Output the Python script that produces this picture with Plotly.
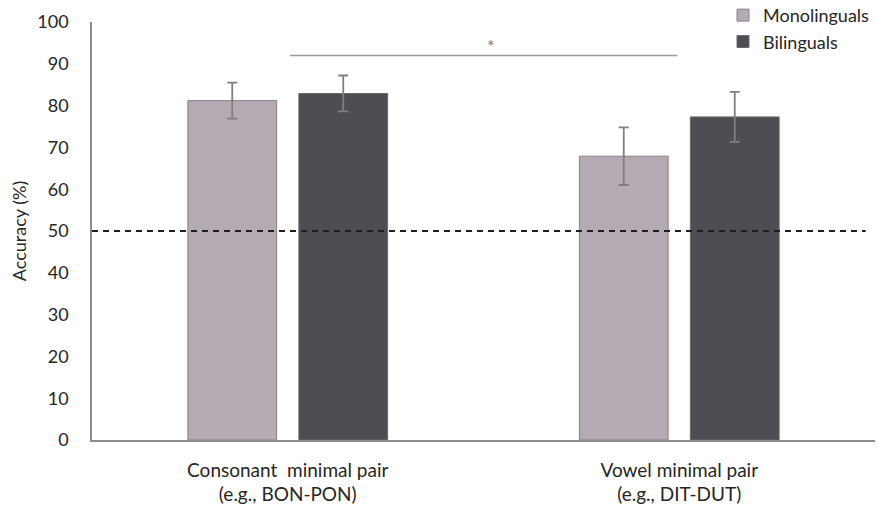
import plotly.graph_objects as go

# Task categories (two-line tick labels)
categories = ["Consonant  minimal pair<br>(e.g., BON-PON)", "Vowel minimal pair<br>(e.g., DIT-DUT)"]
# Mean accuracy (%) and error margins per group
mono_values = [81.2, 67.9]
mono_errors = [4.3, 6.9]
bili_values = [82.9, 77.3]
bili_errors = [4.3, 6.0]
chance_level = 50
sig_level = 92
y_ticks = [0, 10, 20, 30, 40, 50, 60, 70, 80, 90, 100]

FONT = "Lato"
AXIS_GRAY = "#8c8c8c"
TEXT = "#262626"

fig = go.Figure()
fig.add_trace(go.Bar(
    name="Monolinguals", x=categories, y=mono_values,
    marker=dict(color="#b4aab3", line=dict(color="#8a8389", width=1)),
    error_y=dict(type="data", array=mono_errors, color="#7f7f7f", thickness=1.8, width=5),
))
fig.add_trace(go.Bar(
    name="Bilinguals", x=categories, y=bili_values,
    marker=dict(color="#4f4d53", line=dict(color="#6a686d", width=1)),
    error_y=dict(type="data", array=bili_errors, color="#7f7f7f", thickness=1.8, width=5),
))

# Chance-level reference line
fig.add_shape(type="line", xref="paper", yref="y", x0=0, x1=0.988,
              y0=chance_level, y1=chance_level,
              line=dict(color="#1e1e1e", width=2, dash="6px,5px"))
# Significance bracket between the two tasks
fig.add_shape(type="line", xref="x", yref="y", x0=0.006, x1=0.995,
              y0=sig_level, y1=sig_level,
              line=dict(color="#9a9a9a", width=1.5))
fig.add_annotation(x=0.52, y=sig_level + 2.2, xref="x", yref="y", text="*",
                   showarrow=False, font=dict(family=FONT, size=18, color="#7a7a7a"))

fig.update_layout(
    width=877, height=507,
    margin=dict(l=92, r=2, t=22, b=67, autoexpand=False),
    paper_bgcolor="white", plot_bgcolor="white",
    barmode="group", bargap=0.433, bargroupgap=0.2,
    font=dict(family=FONT, color=TEXT),
    showlegend=True,
    legend=dict(x=1.0, y=1.06, xanchor="right", yanchor="top",
                font=dict(family=FONT, size=18, color=TEXT),
                bgcolor="rgba(0,0,0,0)", tracegroupgap=0, itemwidth=30),
    xaxis=dict(type="category", range=[-0.5, 1.5], showgrid=False,
               showline=True, linecolor=AXIS_GRAY, linewidth=1.5,
               ticks="", ticklabelstandoff=12,
               tickfont=dict(family=FONT, size=19, color=TEXT)),
    yaxis=dict(range=[0, 100], tickvals=y_ticks, showgrid=False, zeroline=False,
               showline=True, linecolor=AXIS_GRAY, linewidth=1.5, ticks="",
               ticklabelstandoff=18,
               tickfont=dict(family=FONT, size=18, color=TEXT),
               title=dict(text="Accuracy (%)", font=dict(family=FONT, size=18, color=TEXT),
                          standoff=6)),
)

fig.write_html("out.html")
